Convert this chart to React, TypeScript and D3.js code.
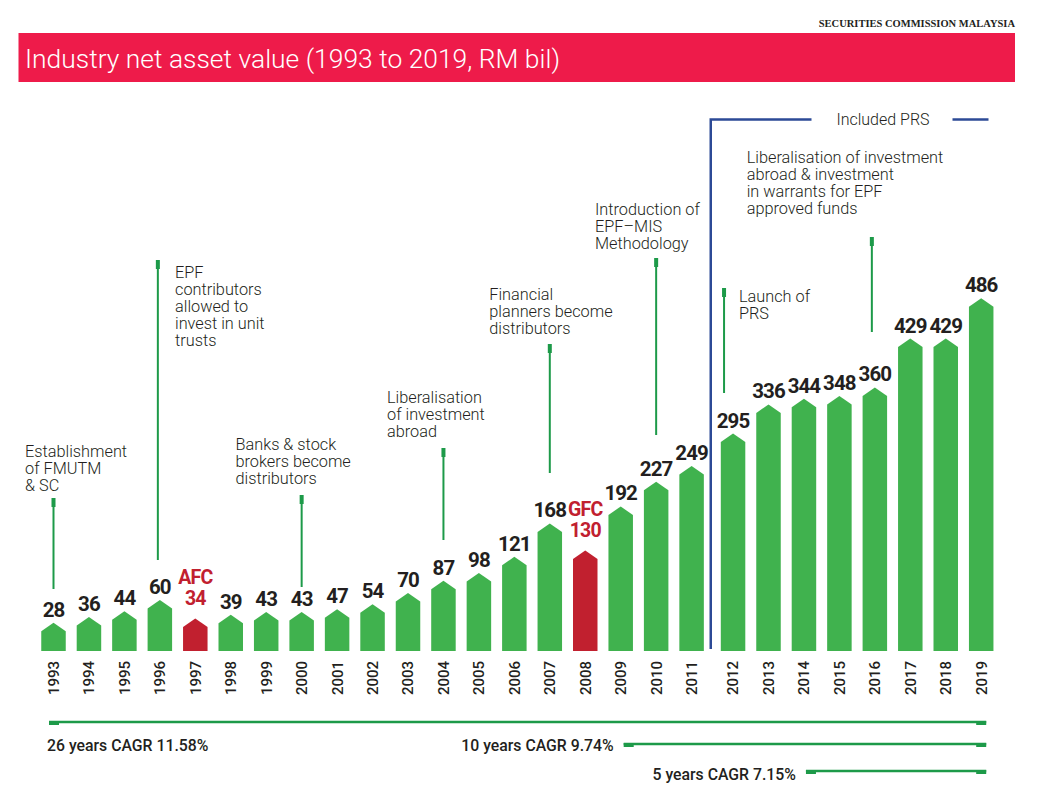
import React from "react";
import * as d3 from "d3";

const years = [1993, 1994, 1995, 1996, 1997, 1998, 1999, 2000, 2001, 2002, 2003, 2004, 2005, 2006, 2007, 2008, 2009, 2010, 2011, 2012, 2013, 2014, 2015, 2016, 2017, 2018, 2019];
const navValues = [28, 36, 44, 60, 34, 39, 43, 43, 47, 54, 70, 87, 98, 121, 168, 130, 192, 227, 249, 295, 336, 344, 348, 360, 429, 429, 486];
const crisisYears = [1997, 2008];
const crisisNames = ["AFC", "GFC"];
const prsStartYear = 2012;
const prsLabel = "Included PRS";

const annotationYears = [1993, 1996, 2000, 2004, 2007, 2010, 2012, 2016];
const annotationTexts = [
  ["Establishment", "of FMUTM", "& SC"],
  ["EPF", "contributors", "allowed to", "invest in unit", "trusts"],
  ["Banks & stock", "brokers become", "distributors"],
  ["Liberalisation", "of investment", "abroad"],
  ["Financial", "planners become", "distributors"],
  ["Introduction of", "EPF\u2013MIS", "Methodology"],
  ["Launch of", "PRS"],
  ["Liberalisation of investment", "abroad & investment", "in warrants for EPF", "approved funds"],
];

const cagrStartYears = [1993, 2009, 2014];
const cagrLabels = ["26 years CAGR 11.58%", "10 years CAGR 9.74%", "5 years CAGR 7.15%"];

const title = "Industry net asset value (1993 to 2019, RM bil)";
const source = "SECURITIES COMMISSION MALAYSIA";

// layout (positions/styles only)
const annLayout = [
  { dx: 0, top: 498, bottom: 589, tx: 25, ty: 456.5 },
  { dx: -2, top: 260, bottom: 560, tx: 175, ty: 278 },
  { dx: 0, top: 495, bottom: 587, tx: 235.5, ty: 450 },
  { dx: 0, top: 448, bottom: 540, tx: 387, ty: 403 },
  { dx: 0, top: 344, bottom: 473, tx: 489.3, ty: 300 },
  { dx: 0, top: 258, bottom: 435, tx: 595, ty: 215 },
  { dx: -9, top: 288, bottom: 393, tx: 739, ty: 301.5 },
  { dx: -3, top: 237, bottom: 332, tx: 746.7, ty: 163 },
];

const GREEN = "#40b24e";
const RED = "#c1202f";
const DARK_GREEN = "#1d9a49";
const NAVY = "#2c4a96";
const TEXT = "#231f20";
const BANNER = "#ee1b4a";
const FONT = "Roboto, 'Noto Sans', sans-serif";

export default function App() {
  const baseline = 651;
  const barW = 24.5;
  const tip = 8.5;
  const prsGap = 6;

  const xp = d3.scalePoint<number>().domain(years).range([53.5, 975.2]);
  const x = (yr: number) => (xp(yr) as number) + (yr >= prsStartYear ? prsGap : 0);
  const y = d3.scaleLinear().domain([0, 500]).range([baseline, baseline - 354.2]);

  const barPath = (yr: number, v: number) => {
    const cx = x(yr);
    const p = d3.path();
    const sh = y(v);
    p.moveTo(cx - barW / 2, baseline);
    p.lineTo(cx - barW / 2, sh);
    p.lineTo(cx, sh - tip);
    p.lineTo(cx + barW / 2, sh);
    p.lineTo(cx + barW / 2, baseline);
    p.closePath();
    return p.toString();
  };

  const lastYear = years[years.length - 1];
  const prsX = x(prsStartYear) - 22.3;

  const cagrLayout = [
    { dx: -4.5, ly: 722, tx: 47, ty: 751, anchor: "start" },
    { dx: 3, ly: 744, tx: 0, ty: 751, anchor: "end" },
    { dx: 2, ly: 771, tx: 0, ty: 780, anchor: "end" },
  ];

  return (
    <svg width={1041} height={800} style={{ position: "absolute", left: 0, top: 0, background: "#fff" }} fontFamily={FONT}>
      <rect x={0} y={0} width={1041} height={800} fill="#fff" />
      {/* header */}
      <text x={1015} y={27} textAnchor="end" fontFamily="'Liberation Serif', 'DejaVu Serif', serif" fontWeight={700} fontSize={10.5} fill={TEXT}>
        {source}
      </text>
      <rect x={18.5} y={33} width={996.5} height={49} fill={BANNER} />
      <text x={25} y={67.5} fontSize={25} fontWeight={300} fill="#fff" textLength={535} lengthAdjust="spacingAndGlyphs">
        {title}
      </text>

      {/* PRS bracket */}
      <path d={`M${prsX},${baseline - 2} V119.5 H811.5`} fill="none" stroke={NAVY} strokeWidth={2.5} />
      <line x1={952.5} x2={988.5} y1={119.5} y2={119.5} stroke={NAVY} strokeWidth={2.5} />
      <text x={883} y={125} textAnchor="middle" fontSize={16} fontWeight={300} fill={TEXT}>
        {prsLabel}
      </text>

      {/* bars */}
      {years.map((yr, i) => {
        const ci = crisisYears.indexOf(yr);
        const isCrisis = ci >= 0;
        const v = navValues[i];
        const top = y(v) - tip;
        return (
          <g key={yr}>
            <path d={barPath(yr, v)} fill={isCrisis ? RED : GREEN} />
            {isCrisis ? (
              <text x={x(yr)} textAnchor="middle" fontSize={19.5} fontWeight={700} fill={RED} letterSpacing={-0.8}>
                <tspan x={x(yr)} y={top - 34}>{crisisNames[ci]}</tspan>
                <tspan x={x(yr)} y={top - 13}>{v}</tspan>
              </text>
            ) : (
              <text x={x(yr)} y={top - 6} textAnchor="middle" fontSize={20.5} fontWeight={700} fill={TEXT} letterSpacing={-0.9}>
                {v}
              </text>
            )}
            <text
              transform={`translate(${x(yr)},661) rotate(-90)`}
              textAnchor="end"
              dy="0.36em"
              fontSize={15}
              fontWeight={500}
              fill={TEXT}
            >
              {yr}
            </text>
          </g>
        );
      })}

      {/* annotations */}
      {annotationYears.map((yr, i) => {
        const L = annLayout[i];
        const lx = x(yr) + L.dx;
        return (
          <g key={yr}>
            <line x1={lx} x2={lx} y1={L.top} y2={L.bottom} stroke={DARK_GREEN} strokeWidth={2} />
            <rect x={lx - 2} y={L.top} width={4} height={9} fill={DARK_GREEN} />
            <text fontSize={16.3} fontWeight={300} fill={TEXT}>
              {annotationTexts[i].map((t, j) => (
                <tspan key={j} x={L.tx} y={L.ty + j * 17}>
                  {t}
                </tspan>
              ))}
            </text>
          </g>
        );
      })}

      {/* CAGR */}
      {cagrStartYears.map((yr, i) => {
        const C = cagrLayout[i];
        const x0 = x(yr) + C.dx;
        const x1 = x(lastYear) + 5;
        const tx = C.anchor === "start" ? C.tx : x0 - 10;
        return (
          <g key={yr}>
            <line x1={x0} x2={x1} y1={C.ly} y2={C.ly} stroke={DARK_GREEN} strokeWidth={2.5} />
            <rect x={x0} y={C.ly - 1} width={10} height={4} fill={DARK_GREEN} />
            <rect x={x1 - 10} y={C.ly - 1} width={10} height={4} fill={DARK_GREEN} />
            <text x={tx} y={C.ty} textAnchor={C.anchor as any} fontSize={15.8} fontWeight={500} fill={TEXT}>
              {cagrLabels[i]}
            </text>
          </g>
        );
      })}
    </svg>
  );
}
